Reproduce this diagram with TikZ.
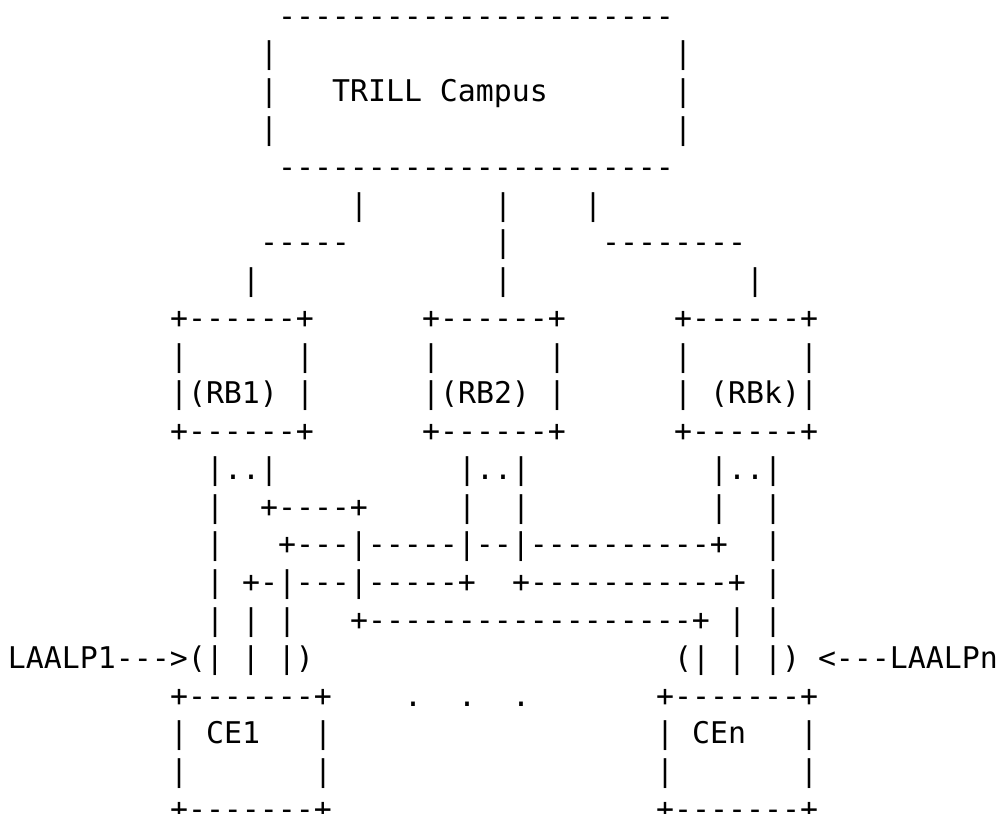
\documentclass[tikz,border=0pt]{standalone}
\usepackage{fontspec}
\setmonofont{DejaVu Sans Mono}
\newcommand\asciifont{\ttfamily\fontsize{14.949pt}{18pt}\selectfont}
% #1 name, #2 column, #3 row, #4 text
\newcommand\asc[4]{\node[asc] (#1) at ({8+18*#2},{-11.61+37.77*#3}) {#4};}
\begin{document}
\begin{tikzpicture}[x=0.5pt,y=-0.5pt,
  asc/.style={anchor=base west, inner sep=0pt, outer sep=0pt, font=\asciifont, text=black}]
\useasboundingbox (0,0) rectangle (1000,813);
% TRILL campus
\asc{campusTop}{15}{1}{----------------------}
\asc{campusL2}{14}{2}{|}
\asc{campusR2}{37}{2}{|}
\asc{campusL3}{14}{3}{|}
\asc{campus}{18}{3}{TRILL Campus}
\asc{campusR3}{37}{3}{|}
\asc{campusL4}{14}{4}{|}
\asc{campusR4}{37}{4}{|}
\asc{campusBot}{15}{5}{----------------------}
% links from campus
\asc{up1}{19}{6}{|}
\asc{up2}{27}{6}{|}
\asc{up3}{32}{6}{|}
\asc{lnk1h}{14}{7}{-----}
\asc{lnk2a}{27}{7}{|}
\asc{lnk3h}{33}{7}{--------}
\asc{lnk1v}{13}{8}{|}
\asc{lnk2b}{27}{8}{|}
\asc{lnk3v}{41}{8}{|}
% RB boxes
\asc{rbA1}{9}{9}{+------+}
\asc{rbB1}{23}{9}{+------+}
\asc{rbC1}{37}{9}{+------+}
\asc{rbA2l}{9}{10}{|}
\asc{rbA2r}{16}{10}{|}
\asc{rbB2l}{23}{10}{|}
\asc{rbB2r}{30}{10}{|}
\asc{rbC2l}{37}{10}{|}
\asc{rbC2r}{44}{10}{|}
\asc{rb1}{9}{11}{|(RB1)}
\asc{rbA3r}{16}{11}{|}
\asc{rb2}{23}{11}{|(RB2)}
\asc{rbB3r}{30}{11}{|}
\asc{rbC3l}{37}{11}{|}
\asc{rbk}{39}{11}{(RBk)|}
\asc{rbA4}{9}{12}{+------+}
\asc{rbB4}{23}{12}{+------+}
\asc{rbC4}{37}{12}{+------+}
% links from RBs
\asc{pA}{11}{13}{|..|}
\asc{pB}{25}{13}{|..|}
\asc{pC}{39}{13}{|..|}
\asc{r14a}{11}{14}{|}
\asc{r14b}{14}{14}{+----+}
\asc{r14c}{25}{14}{|}
\asc{r14d}{28}{14}{|}
\asc{r14e}{39}{14}{|}
\asc{r14f}{42}{14}{|}
\asc{r15a}{11}{15}{|}
\asc{r15b}{15}{15}{+---|-----|--|----------+}
\asc{r15c}{42}{15}{|}
\asc{r16a}{11}{16}{|}
\asc{r16b}{13}{16}{+-|---|-----+}
\asc{r16c}{28}{16}{+-----------+}
\asc{r16d}{42}{16}{|}
\asc{r17a}{11}{17}{|}
\asc{r17b}{13}{17}{|}
\asc{r17c}{15}{17}{|}
\asc{r17d}{19}{17}{+------------------+}
\asc{r17e}{40}{17}{|}
\asc{r17f}{42}{17}{|}
\asc{laalp1}{0}{18}{LAALP1--->(| | |)}
\asc{laalpn}{37}{18}{(| | |) <---LAALPn}
% CE boxes
\asc{ceA1}{9}{19}{+-------+}
\asc{dot1}{22}{19}{.}
\asc{dot2}{25}{19}{.}
\asc{dot3}{28}{19}{.}
\asc{ceB1}{36}{19}{+-------+}
\asc{ceA2l}{9}{20}{|}
\asc{ce1}{11}{20}{CE1}
\asc{ceA2r}{17}{20}{|}
\asc{ceB2l}{36}{20}{|}
\asc{cen}{38}{20}{CEn}
\asc{ceB2r}{44}{20}{|}
\asc{ceA3l}{9}{21}{|}
\asc{ceA3r}{17}{21}{|}
\asc{ceB3l}{36}{21}{|}
\asc{ceB3r}{44}{21}{|}
\asc{ceA4}{9}{22}{+-------+}
\asc{ceB4}{36}{22}{+-------+}
\end{tikzpicture}
\end{document}
